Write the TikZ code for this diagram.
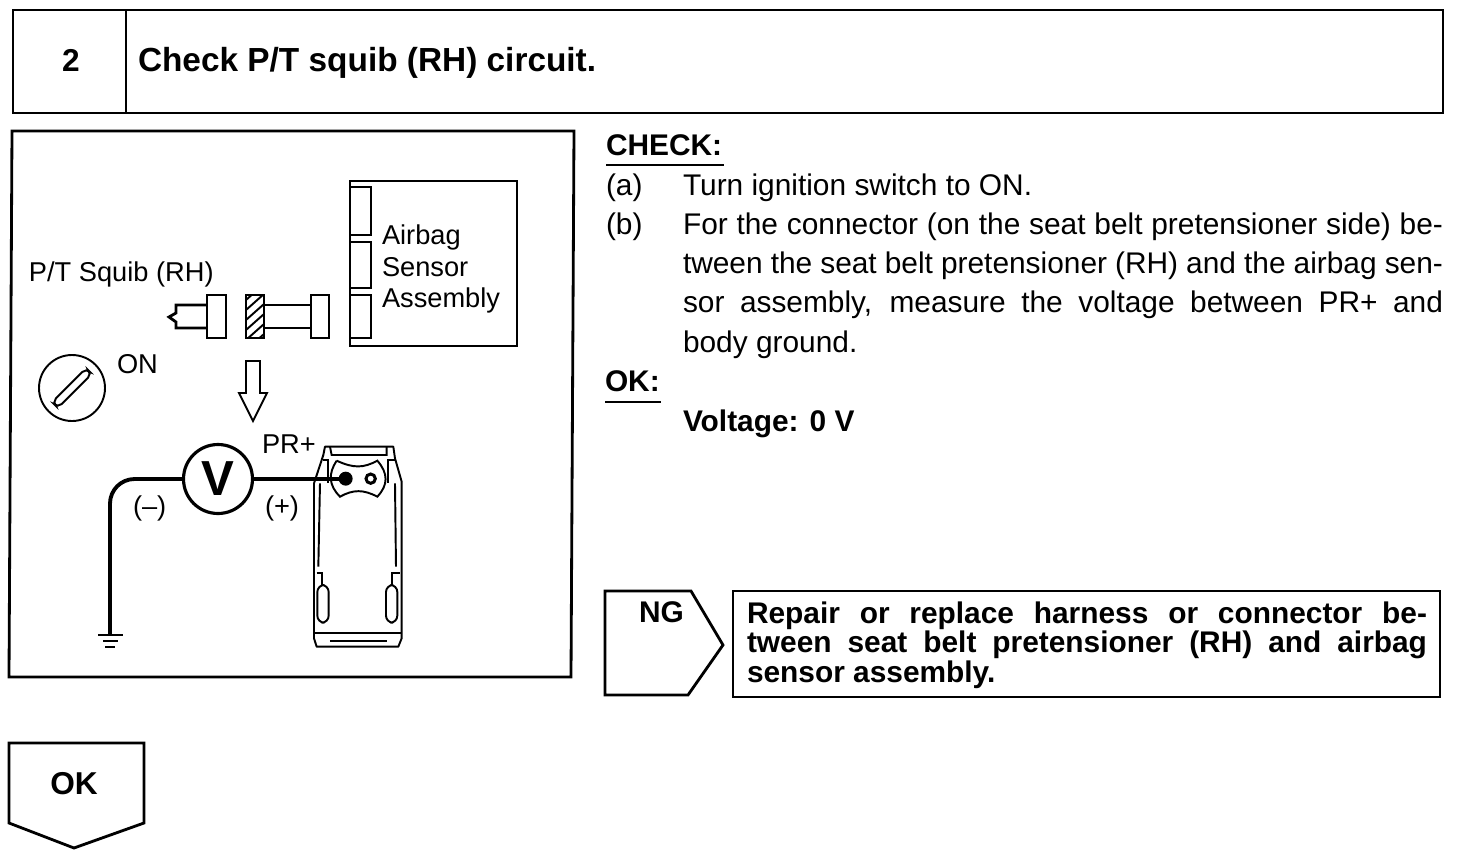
\documentclass[tikz,border=0pt]{standalone}
\usepackage{fontspec}
\setmainfont{Liberation Sans}
\tikzset{
	every node/.style={anchor=base west,inner sep=0pt,outer sep=0pt},
	frame/.style={line width=1.6pt,line join=miter},
	thin line/.style={line width=1.1pt},
	body/.style={font=\fontsize{17}{22.4}\selectfont},
	boldbody/.style={font=\fontsize{17}{22.4}\selectfont\bfseries},
	big label/.style={font=\fontsize{18}{22}\selectfont\bfseries},
	small label/.style={font=\fontsize{15.5}{18}\selectfont},
	wire/.style={line width=2.2pt},
}
\begin{document}
\begin{tikzpicture}[x=0.02cm,y=-0.02cm]
	\useasboundingbox (0,0) rectangle (1472,856);

	% header..................
	\draw [frame] (13,10) rectangle (1443,113);
	\draw [frame] (126,10) to (126,113);
	\node [big label,anchor=base] (stepnum) at (71,71) {2};
	\node [font=\fontsize{19}{22}\selectfont\bfseries] (title) at (138,71) {Check P/T squib (RH) circuit.};

	% left panel..............
	\draw [frame] (12,131) -- (574,131) -- (571,677) -- (9,677) -- cycle;

	% sensor assembly.........
	\draw [frame] (350,181) rectangle (517,346);
	\draw [thin line] (351,187) -- (371,187) -- (371,235) -- (351,235);
	\draw [thin line] (351,242) -- (371,242) -- (371,288) -- (351,288);
	\draw [thin line] (351,295) -- (371,295) -- (371,338) -- (351,338);
	\node [small label] (airbag) at (382,244) {Airbag};
	\node [small label] (sensor) at (382,276) {Sensor};
	\node [small label] (assembly) at (382,307) {Assembly};
	\node [small label] (squiblabel) at (29,281) {P/T Squib (RH)};

	% connector halves........
	\draw [frame] (207,295) rectangle (226,338);
	\draw [frame] (207,305) -- (176,305) -- (176,313) -- (169,317) -- (176,322) -- (176,328) -- (207,328);
	\begin{scope}
		\clip (246,295) rectangle (264,338);
		\foreach \hy in {300,310,...,350}
			\draw [thin line] (246,\hy) to (264,\hy-16);
	\end{scope}
	\draw [frame] (246,295) rectangle (264,338);
	\draw [frame] (264,305) -- (311,305);
	\draw [frame] (264,328) -- (311,328);
	\draw [frame] (311,295) rectangle (329,338);

	% ignition switch.........
	\draw [thin line] (72,388) circle (33);
	\draw [thin line,rotate around={45:(72,388)},rounded corners=3pt] (48,384) rectangle (96,392);
	\node [small label] (onlabel) at (117,373) {ON};

	% down arrow..............
	\draw [thin line] (246,361) -- (260,361) -- (260,393) -- (267,393) -- (253,421) -- (239,393) -- (246,393) -- cycle;

	% voltmeter and wires.....
	\node [draw,circle,line width=1.8pt,minimum size=1.38cm,anchor=center,font=\fontsize{28}{28}\selectfont\bfseries] (vmeter) at (218,479) {V};
	\coordinate (probe) at (345,479);
	\coordinate (gnd) at (110,634);
	\draw [wire,rounded corners=14pt] (vmeter.west) -| (gnd);
	\draw [wire] (vmeter.east) -- (probe);
	\draw [frame] (98,635) -- (123,635);
	\draw [thin line] (103,641) -- (118,641);
	\draw [thin line] (105,647) -- (115,647);
	\node [small label] (prplus) at (262,453) {PR+};
	\node [small label] (minus) at (133,515) {(--)};
	\node [small label] (plus) at (265,515) {(+)};

	% vehicle.................
	\begin{scope}[shift={(90,430)},scale=1/3]
		\draw [thin line,line join=round] (672,160) -- (700,75) -- (705,50) -- (910,50) -- (915,85) -- (935,155) -- (935,625) -- (925,650) -- (680,650) -- (672,625) -- cycle;
		\draw [thin line] (720,50) -- (725,75) -- (890,75) -- (890,50);
		\draw [thin line] (690,160) -- (685,410);
		\draw [thin line] (915,160) -- (918,410);
		\draw [thin line] (672,610) -- (935,610);
		\draw [thin line] (720,632) -- (890,632);
		\draw [thin line] (680,430) -- (695,430) -- (695,465);
		\draw [thin line] (930,430) -- (907,430) -- (907,465);
		\draw [thin line,rounded corners=4pt] (682,465) rectangle (716,578);
		\draw [thin line,rounded corners=4pt] (888,465) rectangle (922,578);
		\draw [thin line] (700,90) -- (715,90) -- (715,160);
		\draw [thin line] (915,90) -- (895,90) -- (895,160);
		\draw [thin line] (740,92) .. controls (790,115) and (820,115) .. (862,92) .. controls (895,130) and (895,165) .. (862,200) .. controls (820,178) and (790,178) .. (750,200) .. controls (715,165) and (715,130) .. (740,92);
		\fill (767,146) circle (21);
		\draw [line width=1.7pt] (842,146) circle (14);
	\end{scope}

	% check text..............
	\node [boldbody] (check) at (606,155) {CHECK:};
	\draw [thin line] (606,165) to (724,165);
	\node [body] (itema) at (606,195) {(a)};
	\node [body] (texta) at (683,195) {Turn ignition switch to ON.};
	\node [body] (itemb) at (606,234) {(b)};
	\node [body,text width=760*0.02cm,align=justify,anchor=base west] (textb) at (683,234) {For the connector (on the seat belt pretensioner side) be-\linebreak tween the seat belt pretensioner (RH) and the airbag sen-\linebreak sor assembly, measure the voltage between PR+ and\linebreak body ground.};
	\node [boldbody] (oklabel) at (605,391) {OK:};
	\draw [thin line] (605,402) to (661,402);
	\node [boldbody] (voltage) at (683,431) {Voltage: 0 V};

	% NG branch...............
	\draw [frame] (605,591) -- (691,591) -- (723,645) -- (688,695) -- (605,695) -- cycle;
	\node [boldbody] (nglabel) at (639,622) {NG};
	\draw [frame] (733,591) rectangle (1440,697);
	\node [font=\fontsize{17}{17}\selectfont\bfseries,text width=680*0.02cm,align=justify,anchor=base west] (repair) at (747,623) {Repair or replace harness or connector be-\linebreak tween seat belt pretensioner (RH) and airbag\linebreak sensor assembly.};

	% OK branch...............
	\draw [frame] (9,743) -- (144,743) -- (144,823) -- (74,848) -- (9,823) -- cycle;
	\node [big label,anchor=base] (okbox) at (74,794) {OK};
\end{tikzpicture}
\end{document}
